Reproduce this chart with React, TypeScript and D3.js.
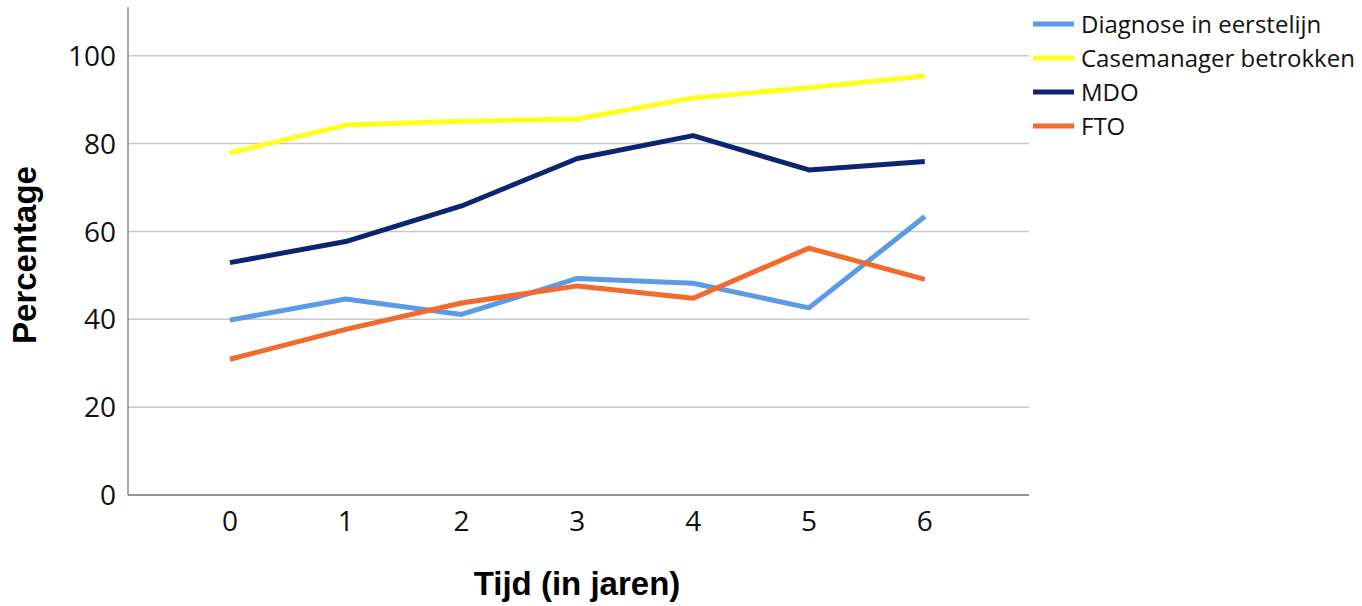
import React from "react";
import * as d3 from "d3";

const years = [0, 1, 2, 3, 4, 5, 6];
const yTicks = [0, 20, 40, 60, 80, 100];
const diagnose = [39.8, 44.6, 41.1, 49.3, 48.2, 42.6, 63.4];
const casemanager = [77.9, 84.2, 85.1, 85.6, 90.4, 92.7, 95.4];
const mdo = [52.9, 57.7, 65.8, 76.6, 81.8, 74.0, 75.9];
const fto = [30.9, 37.7, 43.7, 47.6, 44.8, 56.2, 49.1];

const seriesNames = ["Diagnose in eerstelijn", "Casemanager betrokken", "MDO", "FTO"];
const seriesColors = ["#5B9BE6", "#FFFF1E", "#0C2570", "#F26A2C"];
const seriesValues = [diagnose, casemanager, mdo, fto];

export default function App() {
  const W = 1362, H = 606;
  const x = d3.scaleLinear().domain([-0.88, 6.9]).range([128, 1029]);
  const y = d3.scaleLinear().domain([0, 100]).range([495, 55.7]);
  const line = d3.line<number>().x((_, i) => x(years[i])).y((d) => y(d));
  const tickFont = "'Open Sans', sans-serif";
  const titleFont = "'Liberation Sans', Arial, sans-serif";
  return (
    <svg width={W} height={H} style={{ position: "absolute", left: 0, top: 0, background: "#fff" }}>
      {yTicks.filter((t) => t > 0).map((t) => (
        <line key={t} x1={128} x2={1029} y1={y(t)} y2={y(t)} stroke="#c8c8c8" strokeWidth={1.5} />
      ))}
      <line x1={128} x2={128} y1={7} y2={495} stroke="#8a8a8a" strokeWidth={1.5} />
      <line x1={128} x2={1029} y1={495} y2={495} stroke="#6e6e6e" strokeWidth={1.5} />
      {yTicks.map((t) => (
        <text key={t} x={116} y={y(t)} dy="0.36em" textAnchor="end" fontFamily={tickFont} fontSize={28} fill="#111">{t}</text>
      ))}
      {years.map((yr) => (
        <text key={yr} x={x(yr)} y={531} textAnchor="middle" fontFamily={tickFont} fontSize={28} fill="#111">{yr}</text>
      ))}
      {seriesValues.map((vals, i) => (
        <path key={i} d={line(vals) || ""} fill="none" stroke={seriesColors[i]} strokeWidth={5} strokeLinejoin="round" />
      ))}
      <text transform="translate(36,255) rotate(-90)" textAnchor="middle" fontFamily={titleFont} fontWeight="bold" fontSize={33} fill="#000">Percentage</text>
      <text x={577} y={595} textAnchor="middle" fontFamily={titleFont} fontWeight="bold" fontSize={33} fill="#000">Tijd (in jaren)</text>
      {seriesNames.map((n, i) => (
        <g key={n}>
          <line x1={1033} x2={1074} y1={24 + i * 34} y2={24 + i * 34} stroke={seriesColors[i]} strokeWidth={5} />
          <text x={1081} y={24 + i * 34} dy="0.36em" fontFamily={tickFont} fontSize={24} fill="#111">{n}</text>
        </g>
      ))}
    </svg>
  );
}
